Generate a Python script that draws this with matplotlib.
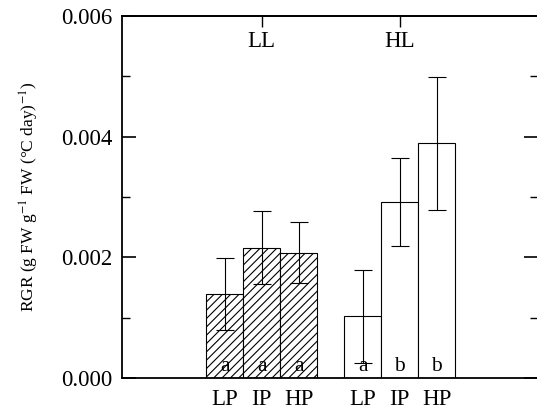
import numpy as np
import matplotlib
matplotlib.use('Agg')
import matplotlib.pyplot as plt
from matplotlib.ticker import MultipleLocator

plt.rcParams['font.family'] = ['Liberation Serif', 'DejaVu Serif']
plt.rcParams['mathtext.fontset'] = 'stix'
plt.rcParams['hatch.linewidth'] = 0.8

# data
groups = ['LL', 'HL']
treatments = ['LP', 'IP', 'HP']
ll_mean = [0.00139, 0.00216, 0.00208]
ll_err = [0.00060, 0.00060, 0.00050]
hl_mean = [0.00102, 0.00292, 0.00389]
hl_err = [0.00077, 0.00073, 0.00110]
ll_letters = ['a', 'a', 'a']
hl_letters = ['a', 'b', 'b']

gap = 3.73
x_ll = np.arange(3)
x_hl = np.arange(3) + gap

fig = plt.figure(figsize=(5.37, 4.13), dpi=100)
ax = fig.add_axes([0.2272, 0.0847, 0.7738, 0.8766])

ekw = dict(ecolor='k', elinewidth=0.8, capsize=6.5, capthick=0.8)
ax.bar(x_ll, ll_mean, width=1.0, color='white', edgecolor='k', hatch='////',
       linewidth=0.8, yerr=ll_err, error_kw=ekw)
ax.bar(x_hl, hl_mean, width=1.0, color='white', edgecolor='k',
       linewidth=0.8, yerr=hl_err, error_kw=ekw)

for xi, lab in zip(np.concatenate([x_ll, x_hl]), ll_letters + hl_letters):
    ax.text(xi, 0.00019, lab, ha='center', va='center', fontsize=15.5)

ax.set_xlim(-2.77, 8.45)
ax.set_ylim(0, 0.006)
ax.set_xticks(np.concatenate([x_ll, x_hl]))
ax.set_xticklabels(treatments + treatments, fontsize=16.5)
ax.tick_params(axis='x', length=0, pad=8)

ax.yaxis.set_major_locator(MultipleLocator(0.002))
ax.yaxis.set_minor_locator(MultipleLocator(0.001))
ax.yaxis.set_major_formatter(plt.FormatStrFormatter('%.3f'))
ax.tick_params(axis='y', which='major', direction='in', length=10, width=1.2,
               right=True, labelsize=16.5, pad=7)
ax.tick_params(axis='y', which='minor', direction='in', length=6, width=1.0,
               right=True)

# group ticks on top axis
top = ax.secondary_xaxis('top')
top.set_xticks([x_ll.mean(), x_hl.mean()])
top.set_xticklabels([])
top.tick_params(direction='in', length=8, width=1.0)
for xi, g in zip([x_ll.mean(), x_hl.mean()], groups):
    ax.text(xi, 0.00557, g, ha='center', va='center', fontsize=16.5)

for s in ax.spines.values():
    s.set_linewidth(1.3)
top.spines['top'].set_linewidth(1.3)

ax.set_ylabel(r'RGR (g FW g$^{-1}$ FW (°C day)$^{-1}$)', fontsize=12.5,
              labelpad=14)

fig.savefig('out.png', dpi=100)
